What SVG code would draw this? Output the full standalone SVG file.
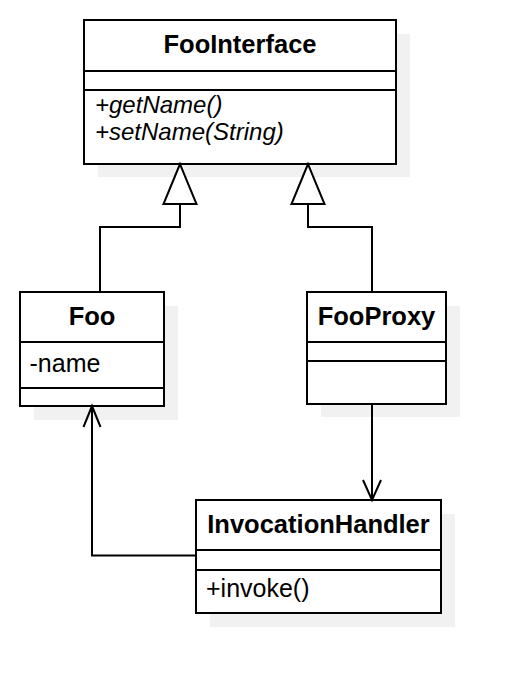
<svg xmlns="http://www.w3.org/2000/svg" width="524" height="694" viewBox="0 0 524 694">
<style>
.shadow{fill:#f1f1f1;stroke:none}
.box{fill:#ffffff;stroke:#000000;stroke-width:2}
.sep{stroke:#000000;stroke-width:2;fill:none}
.title{font-family:"Liberation Sans",Arial,sans-serif;font-size:25.5px;font-weight:bold;text-anchor:middle;fill:#000}
.member{font-family:"Liberation Sans",Arial,sans-serif;font-size:25px;fill:#000}
.abstract{font-style:italic;font-size:24px}
.edge{fill:none;stroke:#000;stroke-width:2}
.tri{fill:#ffffff;stroke:#000;stroke-width:2;stroke-linejoin:miter}
</style>
<rect width="524" height="694" fill="#ffffff"/>
<g id="shadows">
<rect class="shadow" x="98" y="34" width="312" height="143"/>
<rect class="shadow" x="34" y="306" width="144" height="114"/>
<rect class="shadow" x="321" y="306" width="139" height="111"/>
<rect class="shadow" x="210" y="514" width="245" height="113"/>
</g>
<g id="FooInterface">
<rect class="box" x="84" y="20" width="312" height="144"/>
<line class="sep" x1="84" y1="71" x2="396" y2="71"/>
<line class="sep" x1="84" y1="90" x2="396" y2="90"/>
<text class="title" x="240" y="53">FooInterface</text>
<text class="member abstract" x="95" y="113">+getName()</text>
<text class="member abstract" x="95" y="140">+setName(String)</text>
</g>
<g id="Foo">
<rect class="box" x="20" y="292" width="144" height="114"/>
<line class="sep" x1="20" y1="342" x2="164" y2="342"/>
<line class="sep" x1="20" y1="388" x2="164" y2="388"/>
<text class="title" x="92" y="325">Foo</text>
<text class="member" x="29.5" y="371.5">-name</text>
</g>
<g id="FooProxy">
<rect class="box" x="307" y="292" width="139" height="112"/>
<line class="sep" x1="307" y1="342" x2="446" y2="342"/>
<line class="sep" x1="307" y1="361" x2="446" y2="361"/>
<text class="title" x="376.5" y="325">FooProxy</text>
</g>
<g id="InvocationHandler">
<rect class="box" x="196" y="500" width="245" height="113"/>
<line class="sep" x1="196" y1="550" x2="441" y2="550"/>
<line class="sep" x1="196" y1="570" x2="441" y2="570"/>
<text class="title" x="318.5" y="533">InvocationHandler</text>
<text class="member" x="206" y="597">+invoke()</text>
</g>
<g id="connectors">
<path class="edge" d="M100,292 V227 H180 V204"/>
<polygon class="tri" points="180,164 163.5,204 196.5,204"/>
<path class="edge" d="M372,292 V227 H308 V204"/>
<polygon class="tri" points="308,164 291.5,204 324.5,204"/>
<path class="edge" d="M372,404 V499"/>
<polyline class="edge" points="363,480 372,500 381,480"/>
<path class="edge" d="M196,555.5 H92 V407"/>
<polyline class="edge" points="83.5,427 92,406 100.5,427"/>
</g>
</svg>
